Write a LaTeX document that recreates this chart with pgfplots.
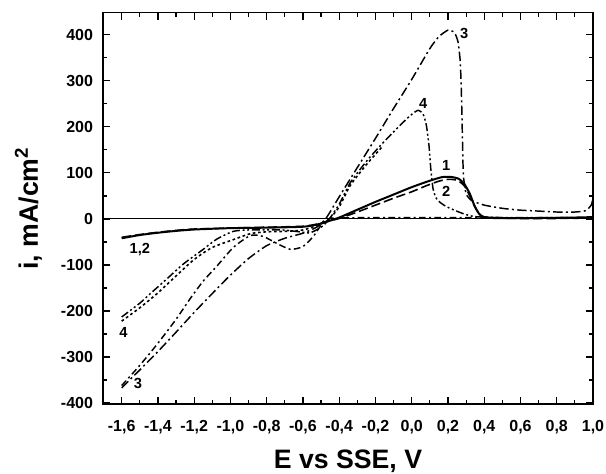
\documentclass[border=0pt]{standalone}
\usepackage{pgfplots}
\pgfplotsset{compat=1.18}
\usepackage{fontspec}
\setmainfont{Liberation Sans}
\begin{document}
\begin{tikzpicture}
\begin{axis}[
  name=ax,
  scale only axis,
  width=367.5pt, height=293.5pt,
  xmin=-1.703, xmax=1.0, ymin=-402, ymax=448,
  axis line style={line width=1pt},
  xtick={-1.6,-1.4,-1.2,-1.0,-0.8,-0.6,-0.4,-0.2,0,0.2,0.4,0.6,0.8,1.0},
  minor x tick num=1,
  ytick={-400,-300,-200,-100,0,100,200,300,400},
  minor y tick num=1,
  tick align=inside,
  tick style={line width=0.9pt, black},
  major tick length=5.25pt, minor tick length=3pt,
  /pgf/number format/assume math mode=true,
  xticklabel style={/pgf/number format/.cd, fixed, fixed zerofill, precision=1, use comma},
  yticklabel style={/pgf/number format/.cd, fixed, precision=0},
  ticklabel style={font=\fontsize{12}{14}\selectfont\bfseries},
  xticklabel shift=8.5pt,
  yticklabel shift=4pt,
  label style={font=\fontsize{20}{24}\selectfont\bfseries},
  xlabel={E vs SSE, V},
  ylabel={i, mA/cm\textsuperscript{2}},
  xlabel style={at={(axis description cs:0.5,0)}, anchor=base, yshift=-48.5pt},
  ylabel style={at={([xshift=-48.75pt]axis description cs:0,0.5)}, anchor=base},
  every axis plot/.append style={black, line width=1.1pt, line join=round},
]
% zero line
\addplot[line width=0.8pt] coordinates {(-1.703,0) (1.0,0)};

% curve 1 (solid)
\addplot[line width=1.5pt, smooth, tension=0.4] coordinates {
(-1.6,-42) (-1.5,-35) (-1.4,-30) (-1.3,-26) (-1.2,-23) (-1.0,-20) (-0.8,-19) (-0.6,-17)
(-0.52,-12) (-0.46,-5) (-0.4,3) (-0.3,20) (-0.2,37) (-0.1,53) (0.0,69) (0.1,83)
(0.17,91) (0.22,91) (0.26,87) (0.29,76) (0.32,55) (0.345,30) (0.37,12) (0.40,4)
(0.5,2) (0.7,2) (0.9,3) (1.0,4)};

% curve 2 (dashed)
\addplot[line width=1.2pt, dash pattern=on 7pt off 3pt, smooth, tension=0.4] coordinates {
(-1.6,-40) (-1.5,-34) (-1.4,-29) (-1.3,-25) (-1.2,-22) (-1.0,-20) (-0.8,-18) (-0.6,-16)
(-0.52,-11) (-0.45,-4) (-0.4,1) (-0.3,15) (-0.2,30) (-0.1,45) (0.0,59) (0.08,72)
(0.15,82) (0.2,86) (0.25,84) (0.29,72) (0.32,50) (0.35,25) (0.38,8) (0.42,2)
(0.6,1) (0.8,1) (1.0,2)};

% curve 3 forward (dash-dot)
\addplot[dash pattern=on 7pt off 2.5pt on 1.5pt off 2.5pt, smooth, tension=0.35] coordinates {
(-1.6,-367) (-1.5,-328) (-1.4,-288) (-1.3,-246) (-1.2,-203) (-1.1,-162) (-1.0,-122)
(-0.9,-86) (-0.8,-58) (-0.7,-42) (-0.6,-31) (-0.52,-17) (-0.47,3) (-0.4,48)
(-0.32,99) (-0.2,175) (-0.1,240) (0.0,303) (0.1,370) (0.15,396) (0.2,410) (0.235,405)
(0.255,385) (0.268,340) (0.275,260) (0.28,170) (0.285,95) (0.3,55) (0.33,40)
(0.4,30) (0.5,23) (0.6,19) (0.7,17) (0.8,15) (0.9,15) (0.96,18) (0.99,30) (1.0,45)};

% curve 3 second branch (dash-dot with dip)
\addplot[dash pattern=on 5pt off 2.5pt on 1.5pt off 2.5pt, smooth, tension=0.4] coordinates {
(-1.6,-362) (-1.5,-318) (-1.4,-270) (-1.3,-218) (-1.22,-172) (-1.15,-135) (-1.076,-103)
(-0.984,-62) (-0.89,-36) (-0.82,-38) (-0.745,-53) (-0.67,-66) (-0.6,-60)
(-0.543,-38) (-0.506,-17) (-0.46,0) (-0.4,2) (-0.2,3) (0.2,3) (0.6,2) (1.0,2)};

% curve 4 forward (dash-dot-dot)
\addplot[dash pattern=on 6pt off 2pt on 1.5pt off 2pt on 1.5pt off 2pt, smooth, tension=0.4] coordinates {
(-1.6,-213) (-1.5,-183) (-1.444,-163) (-1.35,-130) (-1.26,-98) (-1.15,-66)
(-1.076,-44) (-0.984,-27) (-0.9,-24) (-0.8,-24) (-0.71,-24) (-0.62,-28) (-0.56,-30)
(-0.5,-18) (-0.46,-3) (-0.4,32) (-0.34,78) (-0.25,125) (-0.157,166) (-0.047,210)
(0.0,227) (0.036,236) (0.062,228) (0.08,205) (0.095,160) (0.105,110) (0.118,65)
(0.14,42) (0.19,27) (0.28,12) (0.35,5) (0.5,3) (0.8,3) (1.0,3)};

% curve 4 second branch (dotted)
\addplot[line width=1.2pt, dash pattern=on 2pt off 2pt, smooth, tension=0.4] coordinates {
(-1.6,-222) (-1.5,-193) (-1.407,-163) (-1.3,-124) (-1.2,-88) (-1.1,-62)
(-0.984,-45) (-0.89,-32) (-0.8,-28) (-0.7,-27) (-0.6,-24) (-0.52,-14) (-0.46,-2)
(-0.4,26) (-0.34,72) (-0.25,118) (-0.16,158)};

% curve labels
\begin{scope}[every node/.style={font=\fontsize{11}{13}\selectfont\bfseries, inner sep=0pt}]
\node at (axis cs:0.19,116) {1};
\node at (axis cs:0.19,59) {2};
\node at (axis cs:0.29,403) {3};
\node at (axis cs:0.063,251) {4};
\node at (axis cs:-1.50,-67) {1,2};
\node at (axis cs:-1.59,-246) {4};
\node at (axis cs:-1.51,-357) {3};
\end{scope}
\end{axis}
\pgfresetboundingbox
\path ([shift={(-77.25pt,-52.5pt)}]ax.south west) rectangle ([shift={(9.75pt,9.5pt)}]ax.north east);
\end{tikzpicture}
\end{document}
